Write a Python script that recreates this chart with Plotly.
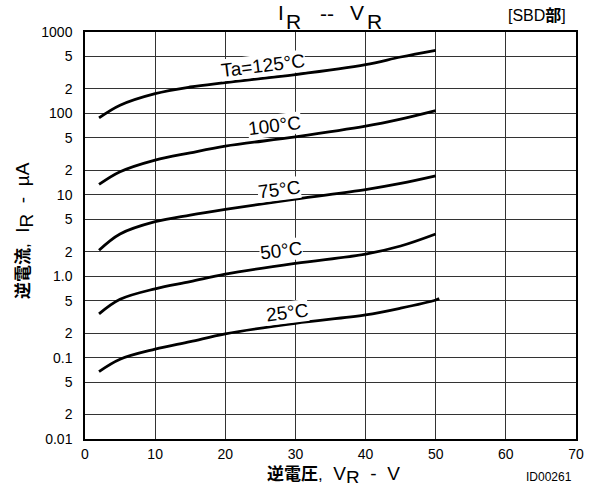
import plotly.graph_objects as go

# ---- data ----
V = [2, 5, 10, 15, 20, 30, 40, 45, 50]
I_125 = [88, 126, 175, 211, 239, 300, 398, 493, 596]
I_100 = [13.4, 19.2, 26.7, 32.8, 39.6, 51.5, 69.6, 85, 108]
I_75 = [2.08, 3.3, 4.67, 5.64, 6.62, 8.85, 11.6, 13.8, 17.1]
I_50 = [0.344, 0.52, 0.70, 0.857, 1.06, 1.44, 1.87, 2.35, 3.30]
V_25 = [2, 5, 10, 15, 20, 30, 40, 45, 50, 50.5]
I_25 = [0.0673, 0.0955, 0.127, 0.157, 0.196, 0.264, 0.334, 0.404, 0.51, 0.53]

series = [("Ta=125°C", V, I_125), ("100°C", V, I_100), ("75°C", V, I_75),
          ("50°C", V, I_50), ("25°C", V_25, I_25)]

# curve label positions (data coords: V, log10 I)
label_pos = {"Ta=125°C": (25.4, 2.59), "100°C": (27.0, 1.855), "75°C": (27.7, 1.07),
             "50°C": (28.0, 0.32), "25°C": (28.8, -0.45)}

y_tickvals = [0.01, 0.02, 0.05, 0.1, 0.2, 0.5, 1, 2, 5, 10, 20, 50, 100, 200, 500, 1000]
y_ticktext = ["0.01", "2", "5", "0.1", "2", "5", "1.0", "2", "5", "10", "2", "5", "100", "2", "5", "1000"]
x_tickvals = [0, 10, 20, 30, 40, 50, 60, 70]

FONT = "Liberation Sans, Arial, sans-serif"
MIX = "Liberation Sans, Noto Sans CJK JP, Noto Sans CJK SC, sans-serif"

L, R, T, B, W, H = 85, 18, 32, 44, 594, 483
PW, PH = W - L - R, H - T - B
NB = "\u00a0"


def px(xp):
    return (xp - L) / PW


def py(yp):
    return (H - B - yp) / PH


fig = go.Figure()
for name, xs, ys in series:
    fig.add_trace(go.Scatter(x=xs, y=ys, mode="lines", name=name,
                             line=dict(color="black", width=2.8, shape="spline", smoothing=1.0),
                             showlegend=False, hoverinfo="skip"))

for name, (lx, ly) in label_pos.items():
    fig.add_annotation(x=lx, y=ly, xref="x", yref="y", text=name, showarrow=False,
                       xanchor="center", yanchor="middle",
                       textangle=-7, bgcolor="white", borderpad=0,
                       font=dict(family=FONT, size=19, color="black"))

grid = "#333333"
fig.update_xaxes(range=[0, 70], tickvals=x_tickvals, ticktext=[str(v) for v in x_tickvals],
                 showgrid=True, gridcolor=grid, gridwidth=1, zeroline=False,
                 showline=True, linecolor="black", linewidth=1.5, mirror=True,
                 ticks="", ticklabelstandoff=1, automargin=False,
                 tickfont=dict(family=FONT, size=14, color="black"))
fig.update_yaxes(type="log", range=[-2, 3], tickvals=y_tickvals, ticktext=y_ticktext,
                 showgrid=True, gridcolor=grid, gridwidth=1, zeroline=False,
                 showline=True, linecolor="black", linewidth=1.5, mirror=True,
                 ticks="", ticklabelstandoff=8, automargin=False,
                 tickfont=dict(family=FONT, size=14, color="black"))


def ann(text, xp, yp, size, family=FONT, angle=0):
    fig.add_annotation(xref="paper", yref="paper", x=px(xp), y=py(yp), text=text,
                       showarrow=False, xanchor="center", yanchor="middle",
                       textangle=angle, font=dict(family=family, size=size, color="black"))


# title pieces: I_R -- V_R (full-size subscripts)
title_parts = [("I", 281, 13), ("R", 293, 21), ("--", 327, 14), ("V", 357, 13), ("R", 374, 21)]
for txt, xp, yp in title_parts:
    ann(txt, xp, yp, 21)
ann("[SBD<b>部</b>]", 537, 16, 16, MIX)

# axis titles
cjk_y = "<span style='font-size:17px'><b>逆電流</b>,</span>"
cjk_x = "<span style='font-size:17px'><b>逆電圧</b>,</span>"
sub_r = "<sub><span style='font-size:19px'>R</span></sub>"
ann(cjk_y + NB * 2 + "I" + sub_r + NB * 2 + "-" + NB * 2 + "µA", 24, 231, 19, MIX, -90)
ann(cjk_x + NB * 2 + "V" + sub_r + NB * 2 + "-" + NB * 2 + "V", 333, 476, 19, MIX)
ann("ID00261", 549, 477, 12)

fig.update_layout(width=W, height=H, margin=dict(l=L, r=R, t=T, b=B),
                  paper_bgcolor="white", plot_bgcolor="white")

fig.write_html("out.html", config={"displayModeBar": False},
               post_script="document.body.style.margin='0';document.body.style.overflow='hidden';")
